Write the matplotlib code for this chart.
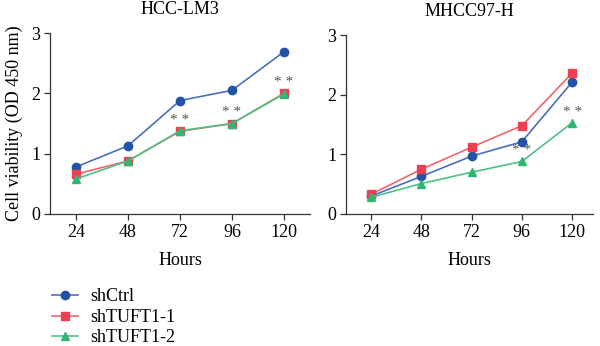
import matplotlib
matplotlib.use("Agg")
import matplotlib.pyplot as plt
import numpy as np

plt.rcParams['font.family'] = ['Liberation Serif', 'DejaVu Serif']

hours = [24, 48, 72, 96, 120]
groups = ["shCtrl", "shTUFT1-1", "shTUFT1-2"]

# HCC-LM3
lm3_ctrl = [0.78, 1.13, 1.88, 2.05, 2.69]
lm3_t1 = [0.66, 0.88, 1.37, 1.50, 2.00]
lm3_t2 = [0.58, 0.88, 1.38, 1.50, 1.99]
lm3_star_x = [72, 96, 120]
lm3_star_y = [1.38, 1.50, 2.00]

# MHCC97-H
mh_ctrl = [0.30, 0.63, 0.97, 1.21, 2.21]
mh_t1 = [0.33, 0.75, 1.12, 1.48, 2.36]
mh_t2 = [0.28, 0.51, 0.70, 0.88, 1.53]
mh_star_x = [96, 120]
mh_star_y = [0.88, 1.53]

line_cols = ["#4a6fbf", "#f0646b", "#4cc285"]
mark_cols = ["#2253a8", "#ee4050", "#33b574"]
markers = ["o", "s", "^"]

fig = plt.figure(figsize=(6, 3.46), dpi=100)
ax1 = fig.add_axes([50/600, 1-214/346, 260/600, 181/346])
ax2 = fig.add_axes([346/600, 1-214/346, 247/600, 179/346])

def draw(ax, series, star_x, star_y, title, xmax):
    handles = []
    for s, lc, mc, m, lab in zip(series, line_cols, mark_cols, markers, groups):
        h, = ax.plot(hours, s, color=lc, lw=1.2, marker=m, ms=6,
                     mfc=mc, mec=mc, label=lab)
        handles.append(h)
    for x, y in zip(star_x, star_y):
        ax.text(x, y + 0.07, "* *", ha="center", va="bottom", fontsize=11, color="#555555")
    ax.set_xlim(12, xmax)
    ax.set_ylim(0, 3)
    ax.set_xticks(hours)
    ax.set_yticks([0, 1, 2, 3])
    ax.spines["top"].set_visible(False)
    ax.spines["right"].set_visible(False)
    for sp in ["left", "bottom"]:
        ax.spines[sp].set_color("#333333")
        ax.spines[sp].set_linewidth(0.9)
    ax.tick_params(labelsize=13, length=4, width=0.9, color="#333333", pad=3)
    ax.set_xlabel("Hours", fontsize=13, labelpad=8)
    ax.set_title(title, fontsize=13, pad=14)
    return handles

handles = draw(ax1, [lm3_ctrl, lm3_t1, lm3_t2], lm3_star_x, lm3_star_y, "HCC-LM3", 132)
draw(ax2, [mh_ctrl, mh_t1, mh_t2], mh_star_x, mh_star_y, "MHCC97-H", 130)
ax1.set_ylabel("Cell viability (OD 450 nm)", fontsize=13, labelpad=6)

fig.legend(handles=handles, loc="upper left", bbox_to_anchor=(36/600, 1-272/346),
           frameon=False, fontsize=13, handlelength=1.4, labelspacing=0.2,
           handletextpad=0.7)

fig.savefig("out.png", dpi=100)
plt.close(fig)
